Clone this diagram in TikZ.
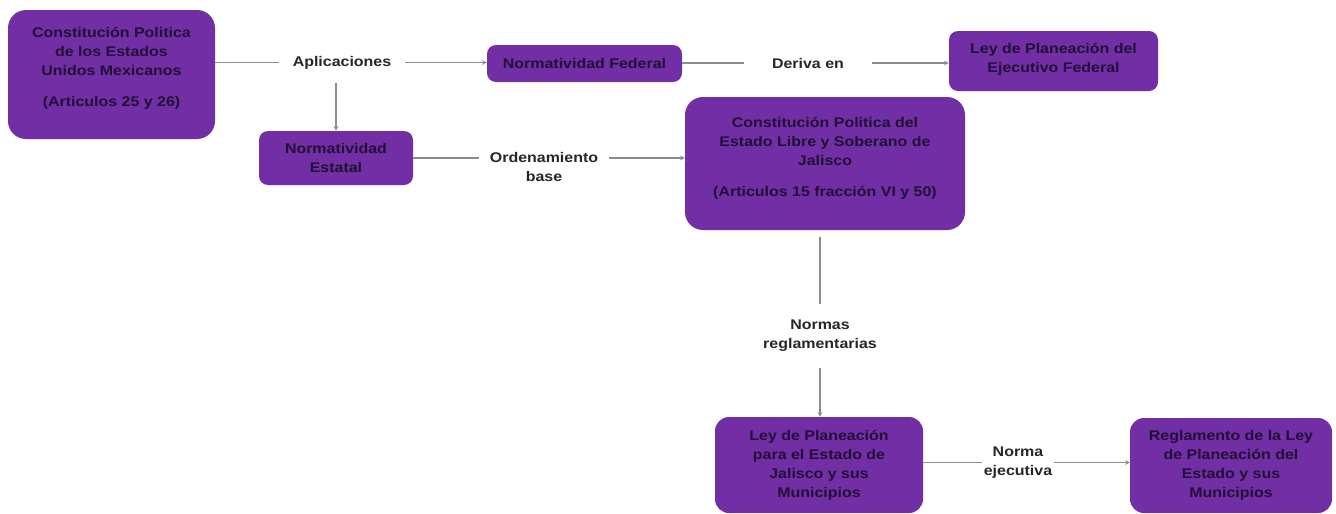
\documentclass[tikz,border=0pt]{standalone}
\usepackage{fontspec}
\setmainfont{Liberation Sans}[FakeStretch=1.14]
\definecolor{moradobox}{RGB}{114,46,164}
\definecolor{textobox}{RGB}{32,16,54}
\definecolor{gris}{RGB}{140,140,140}
\begin{document}
\begin{tikzpicture}[x=1pt,y=-1pt,
        caja/.style={fill=moradobox,text=textobox,rounded corners=9pt,inner sep=0pt,align=center,font=\fontsize{14}{19}\selectfont\bfseries},
        etiqueta/.style={text=black!85,inner sep=14pt,align=center,font=\fontsize{14}{19}\selectfont\bfseries},
        conector/.style={draw=gris,line width=1.1pt},
        flecha/.style={conector,-stealth}]
    \useasboundingbox (0,0) rectangle (1336,514);
    % cajas
    \node[caja,rounded corners=18pt,minimum width=207pt,minimum height=129pt] (cpeum) at (111.5,74.5)
        {Constitución Politica\\de los Estados\\Unidos Mexicanos\\[12pt](Articulos 25 y 26)\\[-4pt]\mbox{}};
    \node[caja,minimum width=154pt,minimum height=54pt] (estatal) at (336,158) {Normatividad\\Estatal};
    \node[caja,minimum width=195pt,minimum height=37pt] (federal) at (584.5,63.5) {Normatividad Federal};
    \node[caja,minimum width=209pt,minimum height=60pt] (leyfed) at (1053.5,61) {Ley de Planeación del\\Ejecutivo Federal\\[-12pt]\mbox{}};
    \node[caja,rounded corners=18pt,minimum width=280pt,minimum height=133pt] (cpjal) at (825,163.5)
        {Constitución Politica del\\Estado Libre y Soberano de\\Jalisco\\[12pt](Articulos 15 fracción VI y 50)\\[-6pt]\mbox{}};
    \node[caja,rounded corners=14pt,minimum width=208pt,minimum height=96pt] (leyjal) at (819,465)
        {Ley de Planeación\\para el Estado de\\Jalisco y sus\\Municipios};
    \node[caja,rounded corners=14pt,minimum width=202pt,minimum height=95pt] (regl) at (1231,465.5)
        {Reglamento de la Ley\\de Planeación del\\Estado y sus\\Municipios};
    % etiquetas de los conectores
    \node[etiqueta] (apl) at (342,62.5) {Aplicaciones};
    \node[etiqueta,inner xsep=28pt] (deriva) at (808,63) {Deriva en};
    \node[etiqueta,inner xsep=11pt] (orden) at (544,166.5) {Ordenamiento\\base};
    \node[etiqueta,inner ysep=16pt] (normas) at (820,336) {Normas\\reglamentarias};
    \node[etiqueta,inner xsep=2pt] (normaej) at (1018,462.5) {Norma\\ejecutiva};
    % conectores
    \draw[conector] (cpeum.east |- apl) -- (apl);
    \draw[flecha] (apl) -- (federal.west |- apl);
    \draw[flecha] (apl.south -| estatal) -- (estatal);
    \draw[conector] (federal.east |- deriva) -- (deriva);
    \draw[flecha] (deriva) -- (leyfed.west |- deriva);
    \draw[conector] (estatal.east) -- (orden.west |- estatal.east);
    \draw[flecha] (orden.east |- estatal.east) -- (cpjal.west |- estatal.east);
    \draw[conector,shorten <=7pt] (cpjal.south -| normas) -- (normas);
    \draw[flecha] (normas) -- (leyjal.north -| normas);
    \draw[conector] (leyjal.east |- normaej) -- (normaej);
    \draw[flecha] (normaej) -- (regl.west |- normaej);
\end{tikzpicture}
\end{document}
